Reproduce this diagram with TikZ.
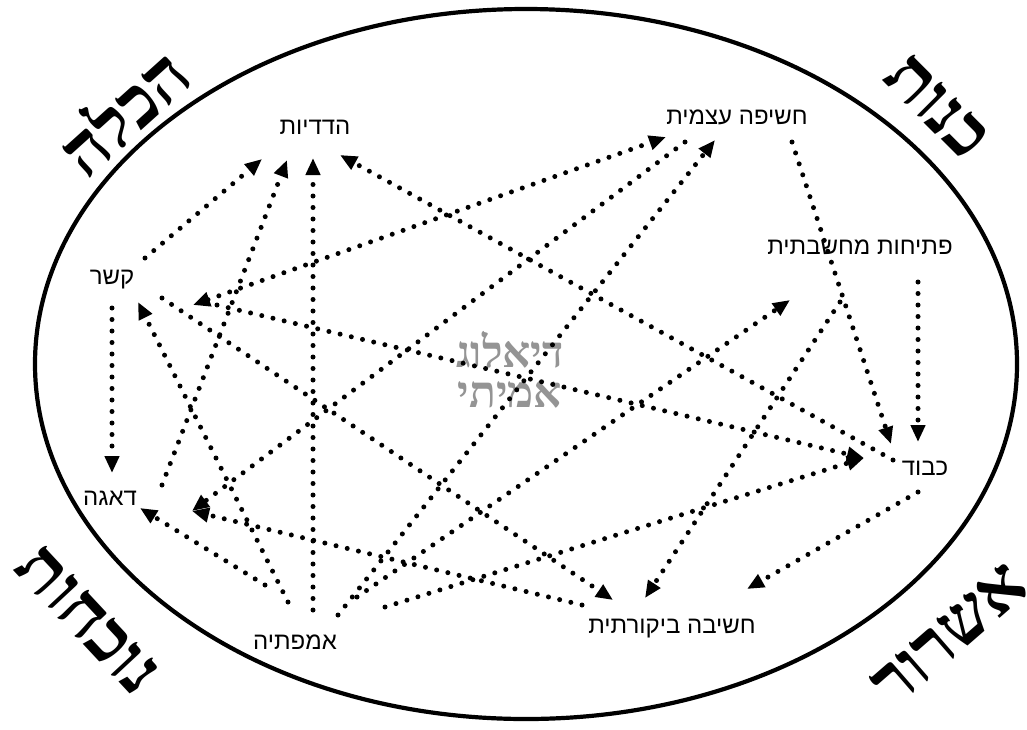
\documentclass[tikz,border=0pt]{standalone}
\usepackage{fontspec}
\usetikzlibrary{arrows.meta,calc}
\TeXXeTstate=1
\newfontfamily\hebsans[Script=Hebrew]{Liberation Sans}
\newfontfamily\hebserif[Script=Hebrew]{Liberation Serif}

\begin{document}
\begin{tikzpicture}[x=1pt,y=-1pt,
  concept/.style={font=\hebsans\fontsize{24}{28}\selectfont, inner sep=0pt},
  corner/.style={font=\hebserif\bfseries\fontsize{70}{74}\selectfont, inner sep=0pt},
  centre/.style={font=\hebserif\bfseries\fontsize{44}{40}\selectfont, text=black!42, align=center, inner sep=0pt},
  tip/.tip={Triangle[length=17pt,width=14pt]},
  link/.style={line width=5pt, line cap=round, dash pattern=on 0pt off 11.5pt, -tip},
  twoway/.style={link, tip-tip},
  frame/.style={line width=4.2pt}]

\useasboundingbox (0,0) rectangle (1027,729);
\fill[white] (0,0) rectangle (1027,729);

% outer ellipse
\draw[frame] (526,364) ellipse [x radius=491pt, y radius=355pt];

% corner words
\node[corner, rotate=42]  (hachala)   at (122,110) {\beginR הכלה\endR};
\node[corner, rotate=-45] (kenut)     at (937,107) {\beginR כנות\endR};
\node[corner, rotate=-47] (nochechut) at (88,620)  {\beginR נוכחות\endR};
\node[corner, rotate=41]  (ishrur)    at (950,635) {\beginR אשרור\endR};

% centre title
\node[centre] (dialog) at (510,370) {\beginR דיאלוג\endR\\\beginR אמיתי\endR};

% concepts
\node[concept] (kesher)    at (112,280) {\beginR קשר\endR};
\node[concept] (hadadiyut) at (315,127) {\beginR הדדיות\endR};
\node[concept] (chasifa)   at (737,117) {\beginR חשיפה עצמית\endR};
\node[concept] (ptichut)   at (860,247) {\beginR פתיחות מחשבתית\endR};
\node[concept] (kavod)     at (925,468) {\beginR כבוד\endR};
\node[concept] (daaga)     at (110,498) {\beginR דאגה\endR};
\node[concept] (empatia)   at (295,642) {\beginR אמפתיה\endR};
\node[concept] (bikoret)   at (672,629) {\beginR חשיבה ביקורתית\endR};

% connectors
\draw[link]   ($(kesher)+(33,-22)$)   -- ($(hadadiyut)+(-53,32)$);
\draw[link]   ($(daaga)+(52,-13)$)    -- ($(hadadiyut)+(-28,33)$);
\draw[link]   ($(empatia)+(18,-32)$)  -- ($(hadadiyut)+(-2,31)$);
\draw[link]   ($(kavod)+(-32,-8)$)    -- ($(hadadiyut)+(25,28)$);
\draw[twoway] ($(kesher)+(81,25)$)    -- ($(chasifa)+(-71,20)$);
\draw[link]   ($(empatia)+(43,-27)$)  -- ($(chasifa)+(-22,23)$);
\draw[link]   ($(chasifa)+(-52,25)$)  -- ($(daaga)+(82,13)$);
\draw[link]   ($(chasifa)+(55,25)$)   -- ($(kavod)+(-34,-24)$);
\draw[link]   ($(ptichut)+(58,35)$)   -- ($(kavod)+(-7,-26)$);
\draw[link]   ($(ptichut)+(-20,55)$)  -- ($(bikoret)+(-27,-31)$);
\draw[link]   ($(kavod)+(-7,24)$)     -- ($(bikoret)+(75,-40)$);
\draw[link]   ($(kesher)+(50,18)$)    -- ($(bikoret)+(-59,-29)$);
\draw[link]   ($(kesher)+(105,25)$)   -- ($(kavod)+(-61,-10)$);
\draw[link]   ($(empatia)+(90,-35)$)  -- ($(kavod)+(-61,-10)$);
\draw[link]   ($(empatia)+(-30,-57)$) -- ($(daaga)+(30,10)$);
\draw[link]   ($(kesher)+(0,28)$)     -- ($(daaga)+(2,-25)$);
\draw[link]   ($(empatia)+(-7,-40)$)  -- ($(kesher)+(26,22)$);
\draw[link]   ($(empatia)+(62,-45)$)  -- ($(ptichut)+(-70,53)$);
\draw[link]   ($(bikoret)+(-90,-24)$) -- ($(daaga)+(82,13)$);
\end{tikzpicture}
\end{document}
